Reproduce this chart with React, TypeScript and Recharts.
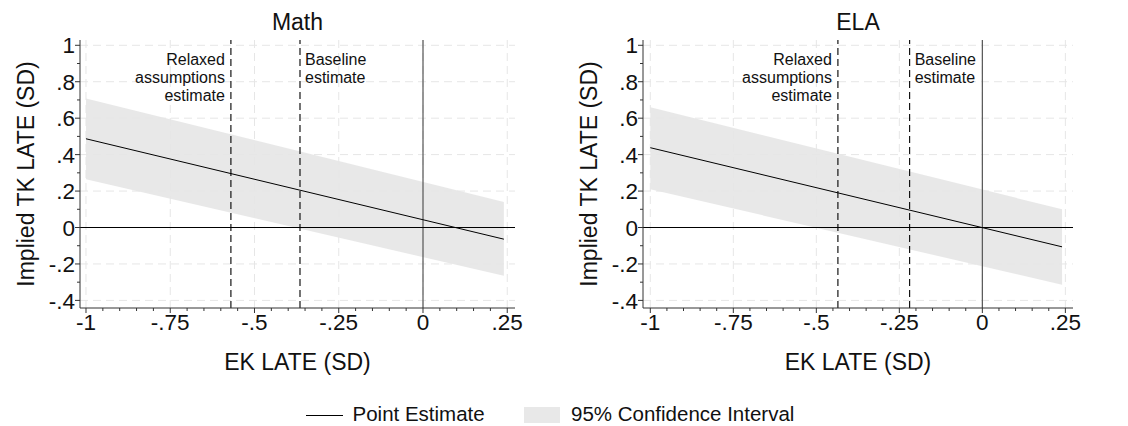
import React from 'react';
import { ComposedChart, Line, Area, XAxis, YAxis, ReferenceLine } from 'recharts';

// ---------- data ----------
const xPoints = [-1, 0.24];
const mathPoint = [0.487, -0.064];
const mathLow = [0.265, -0.265];
const mathHigh = [0.708, 0.14];
const elaPoint = [0.438, -0.106];
const elaLow = [0.21, -0.314];
const elaHigh = [0.66, 0.1];

const mathRelaxed = -0.57;
const mathBaseline = -0.365;
const elaRelaxed = -0.435;
const elaBaseline = -0.219;

const xMajorTicks = [-1, -0.75, -0.5, -0.25, 0, 0.25];
const xMinorTicks = [-0.95, -0.9, -0.85, -0.8, -0.7, -0.65, -0.6, -0.55, -0.45, -0.4, -0.35, -0.3, -0.2, -0.15, -0.1, -0.05, 0.05, 0.1, 0.15, 0.2];
const yMajorTicks = [-0.4, -0.2, 0, 0.2, 0.4, 0.6, 0.8, 1];
const yMinorTicks = [-0.3, -0.1, 0.1, 0.3, 0.5, 0.7, 0.9];

const relaxedLabel = ['Relaxed', 'assumptions', 'estimate'];
const baselineLabel = ['Baseline', 'estimate'];

const FONT = '"Liberation Sans", Arial, Helvetica, sans-serif';
const AXIS = '#333';
const TICK_FS = 22.5;
const TITLE_FS = 23;

const isMajor = (v: number, list: number[]) => list.some((m) => Math.abs(m - v) < 1e-6);
const fmt = (v: number) => {
  if (Math.abs(v) < 1e-9) return '0';
  const s = String(Math.round(v * 100) / 100);
  return s.replace('0.', '.');
};

const XTick = (props: any) => {
  const { x, y, payload } = props;
  const v = payload.value;
  const major = isMajor(v, xMajorTicks);
  return (
    <g>
      <line x1={x} x2={x} y1={y} y2={y + (major ? 5 : 3)} stroke={AXIS} strokeWidth={1} />
      {major && (
        <text x={x} y={y + 6} dy="0.72em" textAnchor="middle" fontSize={TICK_FS} fill="#111" fontFamily={FONT}>
          {fmt(v)}
        </text>
      )}
    </g>
  );
};

const YTick = (props: any) => {
  const { x, y, payload } = props;
  const v = payload.value;
  const major = isMajor(v, yMajorTicks);
  return (
    <g>
      <line x1={x - (major ? 5 : 3)} x2={x} y1={y} y2={y} stroke={AXIS} strokeWidth={1} />
      {major && (
        <text x={x - 5} y={y} dy="0.36em" textAnchor="end" fontSize={TICK_FS} fill="#111" fontFamily={FONT}>
          {fmt(v)}
        </text>
      )}
    </g>
  );
};

const makeVLabel = (lines: string[], side: 'left' | 'right') => (props: any) => {
  const vb = props.viewBox || {};
  const x = side === 'left' ? vb.x - 6 : vb.x + 5;
  return (
    <text x={x} y={vb.y + 24.5} textAnchor={side === 'left' ? 'end' : 'start'} fontSize={16} fill="#111" fontFamily={FONT}>
      {lines.map((l, i) => (
        <tspan key={i} x={x} dy={i === 0 ? 0 : 18}>
          {l}
        </tspan>
      ))}
    </text>
  );
};

const YTitle = (props: any) => {
  const vb = props.viewBox || {};
  const cx = vb.x + 34;
  const cy = vb.y + vb.height / 2;
  return (
    <text x={cx} y={cy} transform={`rotate(-90, ${cx}, ${cy})`} textAnchor="middle" fontSize={TITLE_FS} fill="#111" fontFamily={FONT}>
      Implied TK LATE (SD)
    </text>
  );
};

const XTitle = (props: any) => {
  const vb = props.viewBox || {};
  const cx = vb.x + vb.width / 2;
  return (
    <text x={cx} y={vb.y + 62} textAnchor="middle" fontSize={TITLE_FS} fill="#111" fontFamily={FONT}>
      EK LATE (SD)
    </text>
  );
};

type PanelProps = {
  left: number;
  marginRight: number;
  xDomain: [number, number];
  point: number[];
  low: number[];
  high: number[];
  relaxed: number;
  baseline: number;
};

const Panel = ({ left, marginRight, xDomain, point, low, high, relaxed, baseline }: PanelProps) => {
  const data = xPoints.map((x, i) => ({ x, pe: point[i], ci: [low[i], high[i]] }));
  const allX = [...xMajorTicks, ...xMinorTicks].sort((a, b) => a - b);
  const allY = [...yMajorTicks, ...yMinorTicks].sort((a, b) => a - b);
  return (
    <div style={{ position: 'absolute', left, top: 0 }}>
      <ComposedChart width={560} height={390} data={data} margin={{ top: 40, right: marginRight, left: 0, bottom: 20 }}>
        <XAxis
          dataKey="x"
          type="number"
          domain={xDomain}
          allowDataOverflow
          ticks={allX}
          interval={0}
          tick={<XTick />}
          tickLine={false}
          tickSize={0}
          tickMargin={0}
          height={62}
          axisLine={{ stroke: AXIS }}
          label={XTitle}
        />
        <YAxis
          type="number"
          domain={[-0.4417, 1.029]}
          allowDataOverflow
          ticks={allY}
          interval={0}
          tick={<YTick />}
          tickLine={false}
          tickSize={0}
          tickMargin={0}
          width={80}
          axisLine={{ stroke: AXIS }}
          label={YTitle}
        />
        {xMajorTicks.map((t) => (
          <ReferenceLine key={'gx' + t} x={t} stroke="#e6e6e6" strokeDasharray="8 5" />
        ))}
        {yMajorTicks.filter((t) => t !== 0).map((t) => (
          <ReferenceLine key={'gy' + t} y={t} stroke="#e6e6e6" strokeDasharray="8 5" />
        ))}
        <ReferenceLine x={0} stroke="#555" strokeWidth={1.2} />
        <ReferenceLine y={0} stroke="#000" strokeWidth={1} />
        <Area
          dataKey="ci"
          type="linear"
          fill="#d2d2d2"
          fillOpacity={0.5}
          stroke="none"
          isAnimationActive={false}
          activeDot={false}
        />
        <ReferenceLine x={relaxed} stroke="#000" strokeWidth={1.1} strokeDasharray="7 4" label={makeVLabel(relaxedLabel, 'left')} />
        <ReferenceLine x={baseline} stroke="#000" strokeWidth={1.1} strokeDasharray="7 4" label={makeVLabel(baselineLabel, 'right')} />
        <Line dataKey="pe" type="linear" stroke="#000" strokeWidth={1} dot={false} activeDot={false} isAnimationActive={false} />
      </ComposedChart>
    </div>
  );
};

export default function App() {
  return (
    <div style={{ position: 'absolute', left: 0, top: 0, width: 1128, height: 426, background: '#fff', fontFamily: FONT, overflow: 'hidden' }}>
      <svg width={1128} height={426} style={{ position: 'absolute', left: 0, top: 0 }}>
        <text x={297.5} y={29.5} textAnchor="middle" fontSize={TITLE_FS} fill="#111" fontFamily={FONT}>Math</text>
        <text x={858} y={29.5} textAnchor="middle" fontSize={TITLE_FS} fill="#111" fontFamily={FONT}>ELA</text>
        <line x1={306} x2={343} y1={415.5} y2={415.5} stroke="#000" strokeWidth={1} />
        <text x={352.5} y={421} fontSize={20.5} fill="#111" fontFamily={FONT}>Point Estimate</text>
        <rect x={524} y={407} width={36} height={16} fill="#e8e8e8" />
        <text x={571} y={421} fontSize={20.5} fill="#111" fontFamily={FONT}>95% Confidence Interval</text>
      </svg>
      <Panel left={0} marginRight={45} xDomain={[-1.0178, 0.273]} point={mathPoint} low={mathLow} high={mathHigh} relaxed={mathRelaxed} baseline={mathBaseline} />
      <Panel left={563} marginRight={50} xDomain={[-1.022, 0.273]} point={elaPoint} low={elaLow} high={elaHigh} relaxed={elaRelaxed} baseline={elaBaseline} />
    </div>
  );
}
